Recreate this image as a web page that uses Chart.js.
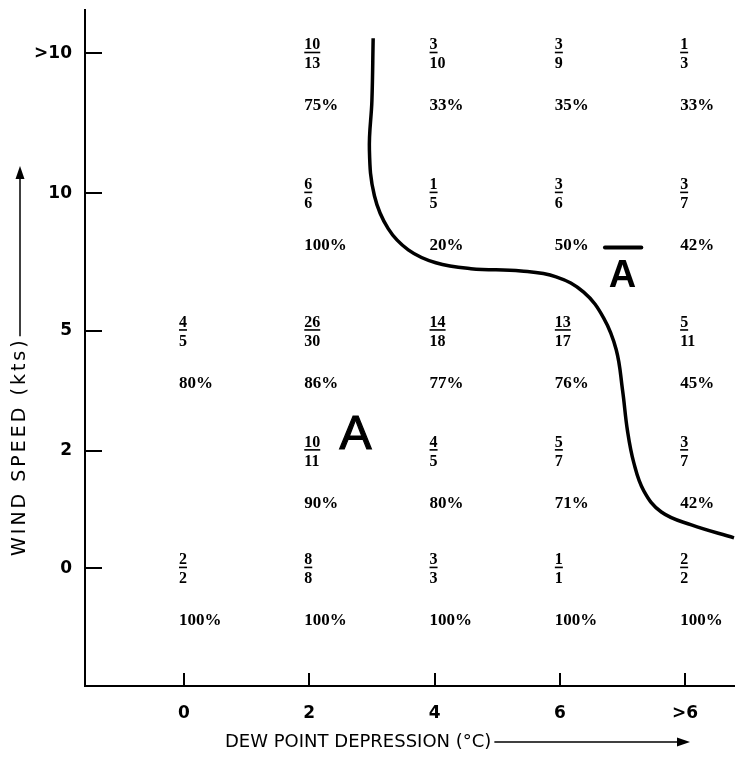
<!DOCTYPE html>
<html>
<head>
<meta charset="utf-8">
<script src="https://cdn.jsdelivr.net/npm/chart.js@4.4.0/dist/chart.umd.min.js"></script>
<style>
  body { margin: 0; background: #fff; }
  canvas { display: block; }
</style>
</head>
<body>
<canvas id="chart-cells" width="744" height="757"></canvas>
<script>
// categories
var xLabels = ['0', '2', '4', '6', '>6'];
var yLabels = ['0', '2', '5', '10', '>10'];
// where each wind-speed row sits on the (hand drawn, uneven) vertical axis
var rowPos = [0, 1, 2.02, 3.19, 4.38];

// rows go from 0 kts up to >10 kts, columns from 0 to >6 degC
var hits = [
    [2, 8, 3, 1, 2],
    [null, 10, 4, 5, 3],
    [4, 26, 14, 13, 5],
    [null, 6, 1, 3, 3],
    [null, 10, 3, 3, 1]
];
var totals = [
    [2, 8, 3, 1, 2],
    [null, 11, 5, 7, 7],
    [5, 30, 18, 17, 11],
    [null, 6, 5, 6, 7],
    [null, 13, 10, 9, 3]
];
var percents = [
    [100, 100, 100, 100, 100],
    [null, 90, 80, 71, 42],
    [80, 86, 77, 76, 45],
    [null, 100, 20, 50, 42],
    [null, 75, 33, 35, 33]
];

// boundary between A and not-A
var boundaryX = [1.51, 1.50, 1.48, 1.52, 1.63, 1.79, 2.01, 2.29, 2.69, 2.97, 3.19, 3.35, 3.45, 3.50, 3.54, 3.59, 3.67, 3.81, 4.05, 4.39];
var boundaryY = [4.51, 3.98, 3.56, 3.17, 2.89, 2.71, 2.60, 2.55, 2.53, 2.48, 2.35, 2.13, 1.86, 1.52, 1.17, 0.90, 0.66, 0.48, 0.37, 0.26];

var AXIS_FONT = "'DejaVu Sans'";
var CELL_FONT = "'Liberation Serif'";

var cellText = {
    id: 'cellText',
    afterDatasetsDraw: function(chart) {
        var ctx = chart.ctx;
        var xs = chart.scales.x, ys = chart.scales.y;
        ctx.save();
        ctx.fillStyle = '#000';
        ctx.strokeStyle = '#000';
        ctx.textAlign = 'left';
        ctx.textBaseline = 'alphabetic';
        for (var r = 0; r < yLabels.length; r++) {
            for (var c = 0; c < xLabels.length; c++) {
                if (hits[r][c] === null) continue;
                var px = xs.getPixelForValue(c) - 5;
                var py = ys.getPixelForValue(rowPos[r]);
                ctx.font = 'bold 16px ' + CELL_FONT;
                var num = String(hits[r][c]);
                ctx.fillText(num, px, py - 4);
                var w = ctx.measureText(num).width;
                ctx.lineWidth = 1.6;
                ctx.beginPath();
                ctx.moveTo(px, py - 1);
                ctx.lineTo(px + w, py - 1);
                ctx.stroke();
                ctx.fillText(String(totals[r][c]), px, py + 15);
                ctx.font = 'bold 17px ' + CELL_FONT;
                ctx.fillText(percents[r][c] + '%', px, py + 57);
            }
        }

        // region letters
        ctx.font = '48px ' + "'Liberation Sans'";
        ctx.textAlign = 'center';
        ctx.textBaseline = 'middle';
        ctx.lineWidth = 1.2;
        ctx.fillText('A', xs.getPixelForValue(1.37), ys.getPixelForValue(1.13));
        ctx.strokeText('A', xs.getPixelForValue(1.37), ys.getPixelForValue(1.13));
        ctx.font = 'bold 38px ' + "'Liberation Sans'";
        ctx.fillText('A', xs.getPixelForValue(3.50), ys.getPixelForValue(2.48));
        ctx.lineWidth = 4;
        ctx.lineCap = 'round';
        ctx.beginPath();
        ctx.moveTo(xs.getPixelForValue(3.36), ys.getPixelForValue(2.73));
        ctx.lineTo(xs.getPixelForValue(3.65), ys.getPixelForValue(2.73));
        ctx.stroke();
        ctx.restore();
    },
    afterDraw: function(chart) {
        var ctx = chart.ctx;
        var area = chart.chartArea;
        ctx.save();
        ctx.fillStyle = '#000';
        ctx.strokeStyle = '#000';
        ctx.font = '18px ' + AXIS_FONT;
        ctx.textBaseline = 'middle';
        ctx.textAlign = 'left';
        ctx.lineWidth = 1.5;

        // x title with arrow
        var tx = 225, ty = area.bottom + 56;
        var t = 'DEW POINT DEPRESSION (\u00B0C)';
        ctx.fillText(t, tx, ty);
        var tw = ctx.measureText(t).width;
        arrow(ctx, tx + tw + 3, ty, 690, ty);

        // y title, rotated, with arrow
        ctx.translate(20, 556);
        ctx.rotate(-Math.PI / 2);
        ctx.font = '19px ' + AXIS_FONT;
        ctx.letterSpacing = '3px';
        var s = 'WIND SPEED (kts)';
        ctx.fillText(s, 0, 0);
        var sw = ctx.measureText(s).width;
        arrow(ctx, sw + 1, 0, 556 - 166, 0);
        ctx.restore();
    }
};

function arrow(ctx, x1, y1, x2, y2) {
    ctx.beginPath();
    ctx.moveTo(x1, y1);
    ctx.lineTo(x2 - 8, y2);
    ctx.stroke();
    ctx.beginPath();
    ctx.moveTo(x2, y2);
    ctx.lineTo(x2 - 13, y2 - 4.5);
    ctx.lineTo(x2 - 13, y2 + 4.5);
    ctx.closePath();
    ctx.fill();
}

var ctx = document.getElementById('chart-cells').getContext('2d');

new Chart(ctx, {
    type: 'line',
    data: {
        datasets: [{
            label: 'A boundary',
            data: boundaryX.map(function(x, i) { return { x: x, y: boundaryY[i] }; }),
            borderColor: '#000',
            borderWidth: 3.5,
            pointRadius: 0,
            tension: 0.4,
            fill: false,
            clip: false
        }]
    },
    options: {
        responsive: false,
        animation: false,
        layout: { padding: { top: 10, right: 10, left: 0, bottom: 0 } },
        plugins: {
            legend: { display: false },
            tooltip: { enabled: false }
        },
        scales: {
            x: {
                type: 'linear',
                min: -0.79,
                max: 4.39,
                afterBuildTicks: function(scale) {
                    scale.ticks = xLabels.map(function(l, i) { return { value: i }; });
                },
                afterFit: function(scale) {
                    scale.height = 71;
                    scale.paddingLeft = 0;
                    scale.paddingRight = 0;
                },
                grid: {
                    drawOnChartArea: false,
                    drawTicks: true,
                    tickLength: -13,
                    color: '#000',
                    lineWidth: 2
                },
                border: { display: true, color: '#000', width: 2 },
                ticks: {
                    padding: 30,
                    autoSkip: false,
                    maxRotation: 0,
                    color: '#000',
                    font: { size: 17, family: AXIS_FONT, weight: 'bold' },
                    callback: function(value, index) { return xLabels[index]; }
                }
            },
            y: {
                type: 'linear',
                min: -1,
                max: 4.75,
                afterBuildTicks: function(scale) {
                    scale.ticks = rowPos.map(function(v) { return { value: v }; });
                },
                afterFit: function(scale) {
                    scale.width = 85;
                    scale.paddingTop = 0;
                    scale.paddingBottom = 0;
                },
                grid: {
                    drawOnChartArea: false,
                    drawTicks: true,
                    tickLength: -17,
                    color: '#000',
                    lineWidth: 2
                },
                border: { display: true, color: '#000', width: 2 },
                ticks: {
                    padding: 30,
                    autoSkip: false,
                    color: '#000',
                    font: { size: 17, family: AXIS_FONT, weight: 'bold' },
                    callback: function(value, index) { return yLabels[index]; }
                }
            }
        }
    },
    plugins: [cellText]
});
</script>
</body>
</html>
